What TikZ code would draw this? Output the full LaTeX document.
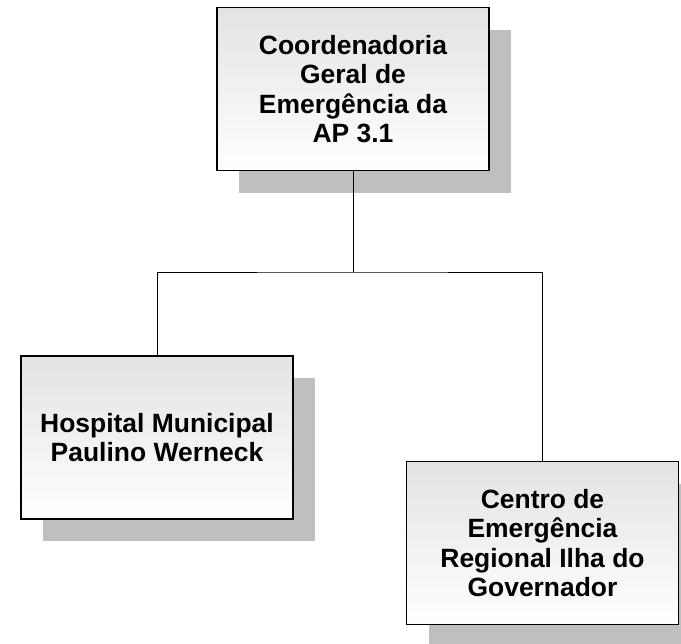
\documentclass[tikz,border=0pt]{standalone}
\usepackage{fontspec}
\setmainfont{Liberation Sans}
\usetikzlibrary{shadows, positioning, calc}

\begin{document}
\begin{tikzpicture}[x=0.025cm, y=-0.025cm,
    unitbox/.style={draw=black, line width=1.3pt, top color=black!11, bottom color=white,
        minimum width=272*0.025cm, minimum height=163*0.025cm, inner sep=0pt, align=center,
        font=\bfseries\fontsize{18.8}{21}\selectfont,
        drop shadow={shadow xshift=0.55cm, shadow yshift=-0.55cm, fill=black!25, opacity=1}},
    link/.style={draw=black, line width=0.7pt}]

\useasboundingbox (0,0) rectangle (681,643);

% coordenacao (topo)
\node[unitbox] (coord) at (353,89) {Coordenadoria\\Geral de\\Emergência da\\AP 3.1};

% unidades (baixo)
\node[unitbox] (hospital) at (157,437.5) {Hospital Municipal\\Paulino Werneck};
\node[unitbox] (centro) at (542.5,543) {Centro de\\Emergência\\Regional Ilha do\\Governador};

% ligacoes
\coordinate (bus) at (355,272);
\draw[link] (coord.south) -- (coord.south |- bus);
\draw[link] (hospital.north) |- (bus) -| (centro.north);

\end{tikzpicture}
\end{document}
